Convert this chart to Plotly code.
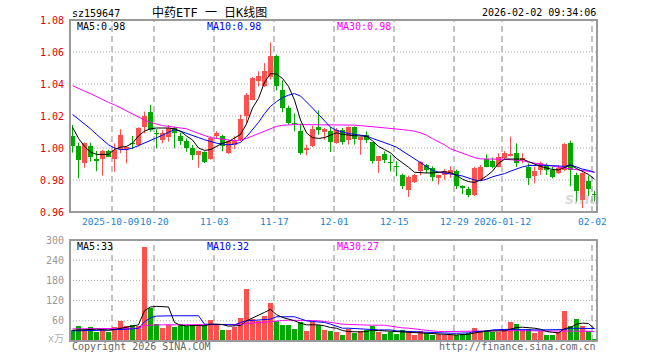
import plotly.graph_objects as go

# ---------------- data ----------------
tick_labels = ["2025-10-09", "10-20", "11-03", "11-17", "12-01", "12-15", "12-29", "2026-01-12", "02-02"]
tick_index = [7, 14, 24, 34, 44, 54, 64, 72, 87]

opens = [1.0077, 1.0012, 0.9908, 1.0012, 0.9929, 0.9929, 0.9981, 0.9931, 0.9992, 0.9994,
         1.0033, 1.0019, 1.0133, 1.0223, 1.0096, 1.0050, 1.0071, 1.0127, 1.0077, 1.0046,
         1.0002, 0.9956, 0.9975, 0.9933, 1.0077, 1.0073, 0.9969, 1.0021, 1.0052, 1.0198,
         1.0302, 1.0417, 1.0385, 1.0444, 1.0577, 1.0365, 1.0250, 1.0156, 1.0104, 0.9985,
         1.0015, 1.0131, 1.0098, 1.0104, 1.0031, 1.0115, 1.0048, 1.0129, 1.0052, 1.0083,
         1.0035, 0.9917, 0.9965, 0.9910, 0.9883, 0.9833, 0.9735, 0.9785, 0.9858, 0.9896,
         0.9875, 0.9813, 0.9833, 0.9844, 0.9858, 0.9765, 0.9744, 0.9706, 0.9800, 0.9929,
         0.9919, 0.9883, 0.9935, 0.9950, 0.9967, 0.9925, 0.9883, 0.9827, 0.9863, 0.9894,
         0.9863, 0.9842, 0.9860, 1.0032, 0.9832, 0.9676, 0.9793, 0.9710]
highs = [1.0144, 1.0033, 1.0035, 1.0033, 0.9981, 0.9988, 0.9988, 1.0029, 1.0117, 1.0012,
         1.0075, 1.0129, 1.0227, 1.0269, 1.0117, 1.0112, 1.0144, 1.0133, 1.0096, 1.0060,
         1.0019, 0.9983, 0.9979, 1.0073, 1.0104, 1.0083, 1.0052, 1.0073, 1.0208, 1.0344,
         1.0444, 1.0479, 1.0531, 1.0660, 1.0583, 1.0423, 1.0265, 1.0215, 1.0152, 1.0021,
         1.0140, 1.0235, 1.0125, 1.0131, 1.0125, 1.0125, 1.0135, 1.0135, 1.0069, 1.0104,
         1.0037, 0.9952, 0.9979, 0.9958, 0.9917, 0.9840, 0.9827, 0.9838, 0.9917, 0.9900,
         0.9885, 0.9833, 0.9869, 0.9885, 0.9865, 0.9767, 0.9758, 0.9883, 0.9894, 0.9960,
         0.9940, 0.9967, 0.9981, 1.0071, 1.0029, 0.9967, 0.9904, 0.9883, 0.9915, 0.9904,
         0.9883, 0.9894, 1.0030, 1.0046, 0.9846, 0.9846, 0.9829, 0.9732]
lows = [0.9971, 0.9811, 0.9877, 0.9915, 0.9856, 0.9827, 0.9946, 0.9852, 0.9967, 0.9904,
        0.9992, 1.0008, 1.0092, 1.0102, 0.9998, 1.0029, 1.0040, 0.9998, 1.0019, 0.9977,
        0.9925, 0.9877, 0.9906, 0.9927, 1.0056, 0.9979, 0.9963, 0.9994, 1.0042, 1.0156,
        1.0298, 1.0385, 1.0381, 1.0427, 1.0360, 1.0223, 1.0146, 1.0104, 0.9958, 0.9954,
        1.0006, 1.0083, 1.0052, 0.9975, 1.0027, 1.0021, 1.0021, 1.0021, 0.9958, 1.0031,
        0.9902, 0.9844, 0.9906, 0.9854, 0.9823, 0.9744, 0.9694, 0.9781, 0.9829, 0.9844,
        0.9792, 0.9771, 0.9802, 0.9813, 0.9744, 0.9712, 0.9692, 0.9700, 0.9796, 0.9879,
        0.9873, 0.9879, 0.9929, 0.9946, 0.9883, 0.9904, 0.9769, 0.9779, 0.9831, 0.9831,
        0.9810, 0.9838, 0.9855, 0.9760, 0.9665, 0.9624, 0.9700, 0.9666]
closes = [1.0012, 0.9925, 1.0029, 0.9946, 0.9919, 0.9981, 0.9946, 0.9988, 1.0081, 1.0008,
          1.0025, 1.0127, 1.0200, 1.0112, 1.0085, 1.0096, 1.0127, 1.0096, 1.0046, 1.0002,
          0.9956, 0.9981, 0.9910, 1.0063, 1.0094, 1.0015, 1.0042, 1.0052, 1.0183, 1.0333,
          1.0438, 1.0452, 1.0479, 1.0577, 1.0385, 1.0250, 1.0156, 1.0150, 0.9969, 1.0000,
          1.0119, 1.0115, 1.0119, 1.0038, 1.0115, 1.0035, 1.0129, 1.0056, 1.0067, 1.0048,
          0.9917, 0.9948, 0.9927, 0.9904, 0.9879, 0.9765, 0.9819, 0.9833, 0.9910, 0.9865,
          0.9817, 0.9829, 0.9858, 0.9860, 0.9765, 0.9748, 0.9706, 0.9873, 0.9883, 0.9883,
          0.9883, 0.9946, 0.9967, 0.9960, 0.9904, 0.9935, 0.9810, 0.9858, 0.9908, 0.9863,
          0.9821, 0.9873, 1.0025, 0.9860, 0.9730, 0.9845, 0.9741, 0.9706]
volumes = [34, 45, 32, 41, 27, 34, 27, 42, 60, 45, 47, 45, 278, 98, 51, 39, 47, 42, 51, 45,
           47, 47, 49, 63, 49, 32, 32, 42, 69, 155, 64, 60, 75, 113, 60, 49, 49, 36, 57, 30,
           57, 47, 32, 30, 27, 17, 37, 24, 30, 32, 44, 27, 20, 27, 21, 32, 27, 17, 29, 24,
           19, 21, 17, 19, 17, 21, 24, 39, 29, 32, 26, 27, 34, 57, 50, 32, 37, 24, 30, 19,
           19, 27, 90, 45, 65, 44, 29, 5]

ma5 = [1.013, 1.006, 1.001, 0.9975, 0.996, 0.9958, 0.996, 0.999, 1.0005, 1.001,
       1.003, 1.0075, 1.0105, 1.012, 1.0125, 1.0125, 1.0125, 1.012, 1.0105, 1.0075,
       1.005, 1.000, 0.9985, 0.999, 1.001, 1.003, 1.004, 1.006, 1.0085, 1.015,
       1.025, 1.031, 1.041, 1.0465, 1.0462, 1.0435, 1.0385, 1.030, 1.0175, 1.0094,
       1.0065, 1.006, 1.0065, 1.008, 1.0095, 1.0085, 1.008, 1.0077, 1.0075, 1.0073,
       1.0045, 1.001, 0.999, 0.997, 0.9935, 0.991, 0.988, 0.9848, 0.9844, 0.9844,
       0.9844, 0.985, 0.9852, 0.9846, 0.983, 0.9805, 0.979, 0.9785, 0.980, 0.9825,
       0.9855, 0.9905, 0.993, 0.9931, 0.9931, 0.9931, 0.9915, 0.9898, 0.9885, 0.9875,
       0.9866, 0.9863, 0.9876, 0.9893, 0.9872, 0.9855, 0.9835, 0.9805]
ma10 = [1.021, 1.018, 1.0155, 1.012, 1.0085, 1.0055, 1.002, 1.000, 0.999, 0.999,
        1.000, 1.0015, 1.003, 1.0045, 1.0062, 1.008, 1.0098, 1.0115, 1.0105, 1.0093,
        1.008, 1.0065, 1.0052, 1.004, 1.003, 1.0025, 1.002, 1.0025, 1.0035, 1.007,
        1.0115, 1.016, 1.0215, 1.026, 1.029, 1.0315, 1.033, 1.034, 1.0325, 1.029,
        1.025, 1.021, 1.017, 1.013, 1.011, 1.0098, 1.009, 1.0085, 1.008, 1.0075,
        1.006, 1.0048, 1.0035, 1.002, 1.0005, 0.998, 0.9955, 0.993, 0.9905, 0.988,
        0.986, 0.985, 0.9845, 0.984, 0.9832, 0.9825, 0.981, 0.980, 0.9795, 0.9805,
        0.982, 0.9828, 0.984, 0.9855, 0.987, 0.9882, 0.989, 0.9892, 0.9892, 0.9892,
        0.989, 0.9888, 0.9885, 0.9895, 0.988, 0.9868, 0.986, 0.9848]
ma30 = [1.039, 1.037, 1.0355, 1.034, 1.032, 1.030, 1.0285, 1.027, 1.025, 1.0233,
        1.021, 1.019, 1.0175, 1.016, 1.0148, 1.014, 1.0135, 1.013, 1.0125, 1.012,
        1.0105, 1.009, 1.0075, 1.0065, 1.006, 1.0055, 1.005, 1.0045, 1.005, 1.006,
        1.0075, 1.009, 1.0105, 1.012, 1.0135, 1.0142, 1.0145, 1.0146, 1.0146, 1.0146,
        1.0146, 1.0146, 1.0146, 1.0146, 1.0146, 1.0146, 1.0145, 1.0143, 1.014, 1.0137,
        1.0134, 1.013, 1.0127, 1.0123, 1.012, 1.0115, 1.011, 1.0105, 1.0095, 1.008,
        1.0058, 1.004, 1.002, 0.9995, 0.998, 0.997, 0.9955, 0.994, 0.9932, 0.993,
        0.993, 0.993, 0.993, 0.9928, 0.9925, 0.992, 0.9912, 0.9905, 0.990, 0.9893,
        0.9885, 0.988, 0.9875, 0.987, 0.9865, 0.986, 0.9854, 0.9849]

vol_ma5 = [32, 33, 33, 34, 35, 34, 32, 34, 38, 42, 46, 48, 90, 101, 103, 102, 101, 55, 47, 45,
           46, 46, 45, 50, 50, 49, 44, 44, 46, 60, 68, 75, 85, 94, 78, 70, 66, 60, 53, 48,
           48, 48, 45, 40, 38, 31, 28, 27, 27, 28, 32, 31, 30, 29, 27, 26, 26, 24, 25, 24,
           22, 21, 21, 20, 18, 19, 20, 24, 27, 29, 30, 30, 30, 35, 40, 41, 40, 38, 35, 28,
           26, 24, 37, 40, 50, 53, 52, 36]
vol_ma10 = [30, 30, 31, 31, 32, 32, 33, 33, 34, 35, 36, 38, 57, 69, 74, 75, 75, 75, 75, 75,
            75, 75, 50, 50, 49, 49, 48, 48, 55, 60, 61, 62, 63, 65, 72, 72, 72, 72, 66, 60,
            58, 56, 55, 50, 43, 38, 38, 37, 34, 33, 33, 33, 33, 33, 30, 29, 28, 27, 26, 25,
            24, 23, 23, 23, 23, 23, 24, 28, 28, 29, 33, 34, 35, 35, 34, 33, 33, 33, 33, 33,
            33, 33, 34, 38, 38, 38, 37, 37]
vol_ma30 = [36, 36, 37, 37, 37, 37, 38, 38, 38, 38, 38, 38, 46, 48, 48, 48, 48, 48, 48, 48,
            48, 48, 48, 48, 48, 48, 48, 48, 49, 52, 54, 55, 56, 57, 60, 61, 62, 62, 62, 62,
            62, 60, 58, 55, 52, 50, 49, 48, 48, 48, 47, 47, 47, 44, 41, 39, 38, 36, 33, 30,
            29, 28, 28, 28, 28, 28, 29, 30, 30, 30, 30, 31, 31, 31, 31, 31, 31, 31, 31, 31,
            31, 31, 31, 31, 30, 30, 29, 28]
vol_ma_labels = [33, 32, 27]   # values printed in the volume legend

price_ticks = [0.96, 0.98, 1.00, 1.02, 1.04, 1.06, 1.08]
vol_ticks = [60, 120, 180, 240, 300]

# ---------------- styling ----------------
RED = "#ff5050"
GREEN = "#00a800"
MONO = "DejaVu Sans Mono, Liberation Mono, monospace"
W, H = 660, 360
L, R, T, B = 70, 597, 20, 341  # plot area pixel box
PRICE_BOTTOM, VOL_TOP = 212, 240

n = len(closes)
idx = list(range(n))
up = [c >= o for o, c in zip(opens, closes)]
colors = [RED if u else GREEN for u in up]


def px(p):
    return (p - L) / (R - L)


def py(p):
    return (B - p) / (B - T)


x0 = -(72.5 - L) / 6.0
x1 = x0 + (R - L) / 6.0

fig = go.Figure()

# bodies
min_h = 0.0007
fig.add_trace(go.Bar(
    x=idx, base=[min(o, c) for o, c in zip(opens, closes)],
    y=[max(abs(c - o), min_h) for o, c in zip(opens, closes)],
    width=5 / 6, marker=dict(color=colors, line=dict(width=0)),
    xaxis="x", yaxis="y", hoverinfo="skip"))

# wicks
for col, flag in ((RED, True), (GREEN, False)):
    wx, wy = [], []
    for i in idx:
        if up[i] == flag:
            wx += [i, i, None]
            wy += [lows[i], highs[i], None]
    fig.add_trace(go.Scatter(x=wx, y=wy, mode="lines", line=dict(color=col, width=1),
                             xaxis="x", yaxis="y", hoverinfo="skip"))

# price MAs
for arr, col in ((ma30, "#ff00ff"), (ma10, "#0000ff"), (ma5, "#000000")):
    fig.add_trace(go.Scatter(x=idx, y=arr, mode="lines", line=dict(color=col, width=1),
                             xaxis="x", yaxis="y", hoverinfo="skip"))

# volume
fig.add_trace(go.Bar(x=idx, y=volumes, width=5 / 6,
                     marker=dict(color=colors, line=dict(width=0)),
                     xaxis="x2", yaxis="y2", hoverinfo="skip"))
for arr, col in ((vol_ma30, "#ff00ff"), (vol_ma10, "#0000ff"), (vol_ma5, "#000000")):
    fig.add_trace(go.Scatter(x=idx, y=arr, mode="lines", line=dict(color=col, width=1),
                             xaxis="x2", yaxis="y2", hoverinfo="skip"))

shapes = []
GRID = "#aaaaaa"
for v in price_ticks[1:-1]:
    shapes.append(dict(type="line", xref="paper", x0=0, x1=1, yref="y", y0=v, y1=v,
                       line=dict(color=GRID, width=1, dash="1px,2px"), layer="below"))
for v in vol_ticks[:-1]:
    shapes.append(dict(type="line", xref="paper", x0=0, x1=1, yref="y2", y0=v, y1=v,
                       line=dict(color=GRID, width=1, dash="1px,2px"), layer="below"))
for t in tick_index:
    xv = t - 2.5 / 6
    shapes.append(dict(type="line", xref="x", x0=xv, x1=xv, yref="paper",
                       y0=py(PRICE_BOTTOM), y1=1,
                       line=dict(color="#b0b0b0", width=1.5, dash="6px,4px"), layer="below"))
    shapes.append(dict(type="line", xref="x", x0=xv, x1=xv, yref="paper",
                       y0=0, y1=py(VOL_TOP),
                       line=dict(color="#b0b0b0", width=1.5, dash="6px,4px"), layer="below"))
BORDER = "#9a9a9a"
shapes.append(dict(type="rect", xref="paper", x0=0, x1=1, yref="paper",
                   y0=py(PRICE_BOTTOM), y1=1, line=dict(color=BORDER, width=2), layer="above"))
shapes.append(dict(type="rect", xref="paper", x0=0, x1=1, yref="paper",
                   y0=0, y1=py(VOL_TOP), line=dict(color=BORDER, width=2), layer="above"))

ann = []


def text(x, y, s, color="#000", size=10, anchor="left", family=MONO):
    ann.append(dict(xref="paper", yref="paper", x=px(x), y=py(y), text=s, showarrow=False,
                    xanchor=anchor, yanchor="middle", font=dict(family=family, size=size, color=color)))


text(70, 13, "sz159647")
text(209, 12.5, "中药ETF 一 日K线图", size=12, anchor="center",
     family="DejaVu Sans Mono, Noto Sans CJK SC, sans-serif")
text(598, 12.5, "2026-02-02 09:34:06", anchor="right")

text(75, 26.5, "MA5:%.2f" % ma5[-1], color="#000000")
text(205, 26.5, "MA10:%.2f" % ma10[-1], color="#0000ff")
text(335, 26.5, "MA30:%.2f" % ma30[-1], color="#ff00ff")

text(75, 246, "MA5:%d" % vol_ma_labels[0], color="#000000")
text(205, 246, "MA10:%d" % vol_ma_labels[1], color="#0000ff")
text(335, 246, "MA30:%d" % vol_ma_labels[2], color="#ff00ff")

for v in price_ticks:
    ann.append(dict(xref="paper", yref="y", x=0, y=v, text="%.2f" % v, showarrow=False,
                    xanchor="right", yanchor="middle", xshift=-4,
                    font=dict(family=MONO, size=10, color="#e00000")))
for v in vol_ticks:
    ann.append(dict(xref="paper", yref="y2", x=0, y=v, text=str(v), showarrow=False,
                    xanchor="right", yanchor="middle", xshift=-4,
                    font=dict(family=MONO, size=10, color="#999999")))
text(66, 338.5, "x万", color="#b0b0b0", anchor="right",
     family="DejaVu Sans Mono, Noto Sans CJK SC, sans-serif")

for k, (t, s) in enumerate(zip(tick_index, tick_labels)):
    ann.append(dict(xref="x", yref="paper", x=t - 2.5 / 6, y=py(221.5), text=s, showarrow=False,
                    xanchor="center", yanchor="middle", xshift=-2 if k == 0 else 0,
                    font=dict(family=MONO, size=9.5, color="#1a7fd6")))

text(70, 346.5, "Copyright 2026 SINA.COM", color="#666666")
text(598, 346.5, "http://finance.sina.com.cn", color="#666666", anchor="right")
text(582, 199, "<b><i>sina</i></b>", color="rgba(150,150,150,0.35)", size=15, anchor="center",
     family="DejaVu Sans, sans-serif")

fig.update_layout(
    width=W, height=H, margin=dict(l=L, r=W - R, t=T, b=H - B),
    paper_bgcolor="white", plot_bgcolor="white", showlegend=False, bargap=0,
    shapes=shapes, annotations=ann, hovermode=False,
    xaxis=dict(domain=[0, 1], range=[x0, x1], anchor="y", showgrid=False, zeroline=False,
               showticklabels=False, ticks="", showline=False),
    yaxis=dict(domain=[py(PRICE_BOTTOM), 1], range=[price_ticks[0], price_ticks[-1]],
               showgrid=False, zeroline=False, showticklabels=False, ticks="", showline=False),
    xaxis2=dict(domain=[0, 1], range=[x0, x1], anchor="y2", matches="x", showgrid=False,
                zeroline=False, showticklabels=False, ticks="", showline=False),
    yaxis2=dict(domain=[0, py(VOL_TOP)], range=[0, 300], anchor="x2", showgrid=False,
                zeroline=False, showticklabels=False, ticks="", showline=False),
)

fig.write_html("out.html", config={"displayModeBar": False, "staticPlot": True},
               post_script="document.body.style.margin='0';document.body.style.overflow='hidden';")
